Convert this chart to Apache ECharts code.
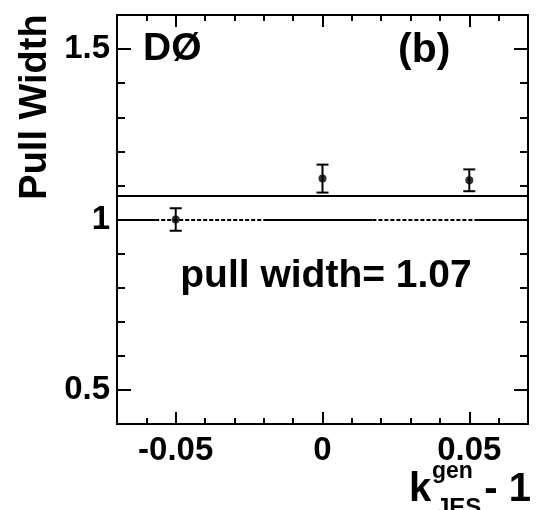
<!DOCTYPE html>
<html>
<head>
<meta charset="utf-8">
<script src="https://cdn.jsdelivr.net/npm/echarts@6/dist/echarts.min.js"></script>
<style>html,body{margin:0;padding:0;background:#fff}#c{width:537px;height:510px}</style>
</head>
<body>
<div id="c"></div>
<script>
// ---- data ----
var xValues = [-0.05, 0, 0.05];
var pullWidths = [1.00, 1.12, 1.115];
var pullErrors = [0.033, 0.041, 0.032];
var fitPullWidth = 1.07;
var referenceWidth = 1.0;
var refBreaks = [-0.07, -0.057, -0.02, 0.017, 0.053, 0.07];
var refStyles = ['solid', 'dashed', 'solid', 'dashed', 'solid'];
var xMajorTicks = [-0.05, 0, 0.05];
var xTickLabels = ['-0.05', '0', '0.05'];
var yMajorTicks = [0.5, 1, 1.5];
var yTickLabels = ['0.5', '1', '1.5'];
var xRange = [-0.07, 0.07];
var yRange = [0.4, 1.6];

var FONT = '"Liberation Sans", Arial, Helvetica, sans-serif';
var chart = echarts.init(document.getElementById('c'), null, {renderer: 'canvas'});

function xAx(pos, major, showLine) {
  var a = {
    type: 'value', position: pos, min: xRange[0], max: xRange[1],
    axisLine: {show: showLine, onZero: false, lineStyle: {color: '#000', width: 2}},
    splitLine: {show: false},
    axisTick: {show: true, inside: true, length: major ? 12 : 6, lineStyle: {color: '#000', width: 2}},
    axisLabel: {show: false}
  };
  if (major) {
    a.axisTick.customValues = xMajorTicks;
    if (pos === 'bottom') {
      a.axisLabel = {show: true, customValues: xMajorTicks, margin: 10,
        formatter: function (v) { var i = xMajorTicks.findIndex(function (t) { return Math.abs(t - v) < 1e-9; }); return i >= 0 ? xTickLabels[i] : ''; },
        color: '#000', fontFamily: FONT, fontWeight: 'bold', fontSize: 33};
    }
  } else {
    a.interval = 0.01;
  }
  return a;
}
function yAx(pos, major, showLine) {
  var a = {
    type: 'value', position: pos, min: yRange[0], max: yRange[1],
    axisLine: {show: showLine, onZero: false, lineStyle: {color: '#000', width: 2}},
    splitLine: {show: false},
    axisTick: {show: true, inside: true, length: major ? 14 : 8, lineStyle: {color: '#000', width: 2}},
    axisLabel: {show: false}
  };
  if (major) {
    a.axisTick.customValues = yMajorTicks;
    if (pos === 'left') {
      a.axisLabel = {show: true, customValues: yMajorTicks, margin: 7,
        formatter: function (v) { var i = yMajorTicks.findIndex(function (t) { return Math.abs(t - v) < 1e-9; }); return i >= 0 ? yTickLabels[i] : ''; },
        color: '#000', fontFamily: FONT, fontWeight: 'bold', fontSize: 33};
    }
  } else {
    a.interval = 0.1;
  }
  return a;
}

var refSegments = [];
for (var i = 0; i < refStyles.length; i++) {
  refSegments.push([
    {coord: [refBreaks[i], referenceWidth], lineStyle: {type: refStyles[i] === 'dashed' ? [4, 2] : 'solid', width: 2, color: '#000'}},
    {coord: [refBreaks[i + 1], referenceWidth]}
  ]);
}

var option = {
  animation: false,
  grid: {left: 117, right: 9, top: 15, bottom: 86, containLabel: false},
  xAxis: [xAx('bottom', false, true), xAx('bottom', true, false), xAx('top', false, true), xAx('top', true, false)],
  yAxis: [yAx('left', false, true), yAx('left', true, false), yAx('right', false, true), yAx('right', true, false)],
  series: [
    {
      type: 'line', xAxisIndex: 0, yAxisIndex: 0, data: [], silent: true,
      markLine: {silent: true, symbol: 'none', label: {show: false},
        lineStyle: {color: '#000', width: 2, type: 'solid'},
        data: [[{coord: [xRange[0], fitPullWidth]}, {coord: [xRange[1], fitPullWidth]}]].concat(refSegments)}
    },
    {
      type: 'custom', xAxisIndex: 0, yAxisIndex: 0,
      data: xValues.map(function (x, i) { return [x, pullWidths[i], pullErrors[i]]; }),
      renderItem: function (params, api) {
        var x = api.value(0), y = api.value(1), e = api.value(2);
        var lo = api.coord([x, y - e]), hi = api.coord([x, y + e]);
        var cap = 6;
        var st = {stroke: '#000', lineWidth: 2};
        return {type: 'group', children: [
          {type: 'line', shape: {x1: lo[0], y1: lo[1], x2: hi[0], y2: hi[1]}, style: st},
          {type: 'line', shape: {x1: lo[0] - cap, y1: lo[1], x2: lo[0] + cap, y2: lo[1]}, style: st},
          {type: 'line', shape: {x1: hi[0] - cap, y1: hi[1], x2: hi[0] + cap, y2: hi[1]}, style: st}
        ]};
      },
      z: 3
    },
    {
      type: 'scatter', xAxisIndex: 0, yAxisIndex: 0, symbol: 'circle', symbolSize: 8,
      itemStyle: {color: '#000'},
      data: xValues.map(function (x, i) { return [x, pullWidths[i]]; }), z: 4
    }
  ],
  graphic: [
    {type: 'text', x: 143, y: 49, style: {text: 'DØ', font: 'bold 39px ' + FONT, fill: '#000', verticalAlign: 'middle'}},
    {type: 'text', x: 398, y: 51, style: {text: '(b)', font: 'bold 41px ' + FONT, fill: '#000', verticalAlign: 'middle'}},
    {type: 'text', x: 326, y: 276, style: {text: 'pull width= 1.07', font: 'bold 39px ' + FONT, fill: '#000', align: 'center', verticalAlign: 'middle'}},
    {type: 'text', x: 36, y: 107, rotation: Math.PI / 2, style: {text: 'Pull Width', font: 'bold 38px ' + FONT, fill: '#000', align: 'center', verticalAlign: 'middle'}},
    {type: 'text', x: 409, y: 490, style: {text: 'k', font: 'bold 40px ' + FONT, fill: '#000', verticalAlign: 'middle'}},
    {type: 'text', x: 432, y: 472, style: {text: 'gen', font: 'bold 23px ' + FONT, fill: '#000', verticalAlign: 'middle'}},
    {type: 'text', x: 436, y: 508, style: {text: 'JES', font: 'bold 24px ' + FONT, fill: '#000', verticalAlign: 'middle'}},
    {type: 'text', x: 531, y: 490, style: {text: '- 1', font: 'bold 40px ' + FONT, fill: '#000', align: 'right', verticalAlign: 'middle'}}
  ]
};
chart.setOption(option);
</script>
</body>
</html>
